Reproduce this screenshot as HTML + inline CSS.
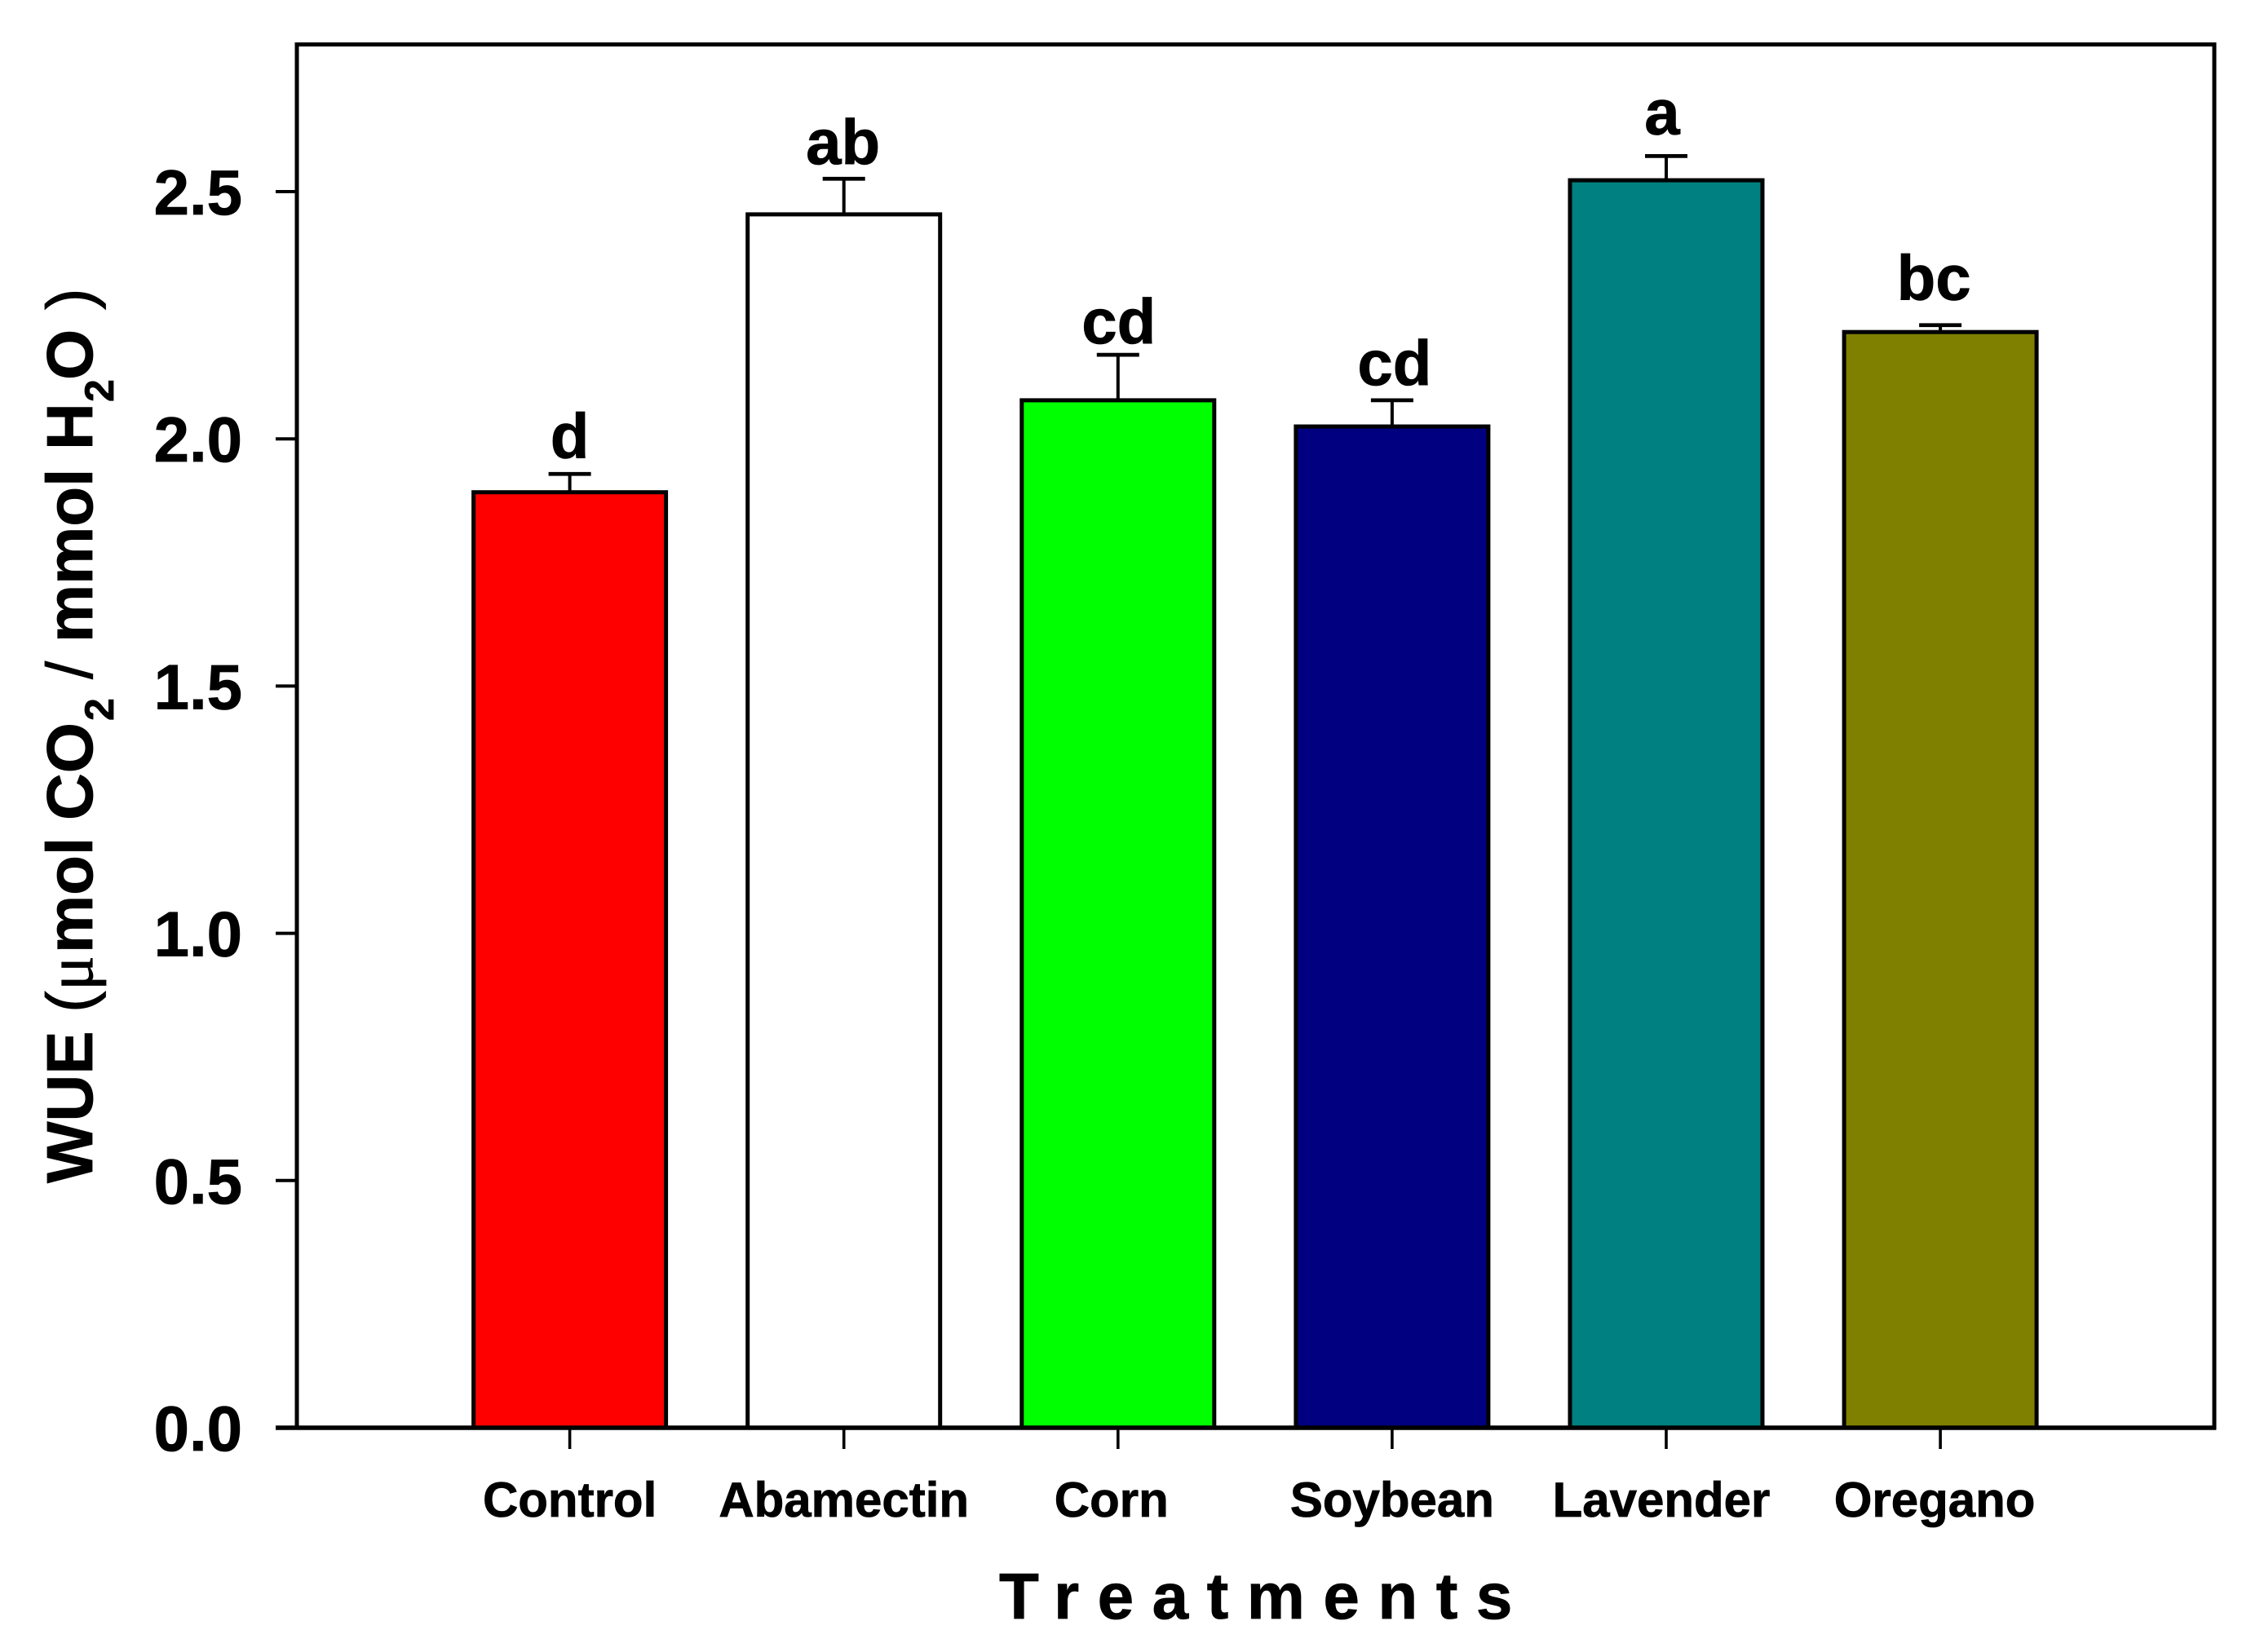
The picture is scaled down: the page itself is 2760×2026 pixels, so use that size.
<!DOCTYPE html>
<html lang="en">
<head>
<meta charset="utf-8">
<title>WUE by treatment</title>
<style>
html,body{margin:0;padding:0;background:#fff}
svg{display:block}
text{font-family:"Liberation Sans",Arial,sans-serif;font-weight:bold;fill:#000;stroke:#000;stroke-width:0.8px}
</style>
</head>
<body>
<svg id="chart" xmlns="http://www.w3.org/2000/svg" width="2760" height="2026" viewBox="0 0 2760 2026">
<rect x="0" y="0" width="2760" height="2026" fill="#fff"/>
<rect x="364" y="54.5" width="2351" height="1696.5" fill="none" stroke="#000" stroke-width="5"/>
<g id="bars"></g>
<line x1="338" y1="1751" x2="2717" y2="1751" stroke="#000" stroke-width="5.4"/>
<g id="y-ticks"></g>
<g id="x-ticks"></g>
<text x="1225" y="1985" font-size="80" letter-spacing="22.5">Treatments</text>
<text transform="translate(113,1451) rotate(-90)" font-size="80"><tspan x="0" y="0">WUE</tspan><tspan x="209" y="0" style="font-weight:normal">(</tspan><tspan x="236" y="0" style="font-family:'Liberation Serif',serif;font-weight:normal">μ</tspan><tspan x="282" y="0">mol</tspan><tspan x="445" y="0">CO</tspan><tspan x="567" y="26" font-size="50">2</tspan><tspan x="618" y="0" style="font-weight:normal">/</tspan><tspan x="663" y="0">mmol</tspan><tspan x="899" y="0">H</tspan><tspan x="958" y="26" font-size="50">2</tspan><tspan x="985" y="0">O</tspan><tspan x="1071" y="0" style="font-weight:normal">)</tspan></text>
</svg>
<script>
const categories = ['Control', 'Abamectin', 'Corn', 'Soybean', 'Lavender', 'Oregano'];
const wueValues = [1.892, 2.454, 2.078, 2.025, 2.523, 2.216];
const errorValues = [0.037, 0.072, 0.092, 0.053, 0.049, 0.014];
const significance = ['d', 'ab', 'cd', 'cd', 'a', 'bc'];
const barColors = ['#ff0000', '#ffffff', '#00ff00', '#000080', '#008080', '#808000'];
const yTickValues = [0, 0.5, 1, 1.5, 2, 2.5];

const NS = 'http://www.w3.org/2000/svg';
const y0 = 1751, pxPerUnit = 606.4;
const firstCenter = 698.6, step = 336.1, barWidth = 236, capWidth = 52;
const labelNudge = [0, -1, 1, 3, -5, -8];
const labelGap = [20, 18, 14, 19, 27, 31];
const catNudge = [0, 0, -8, 0, -6, -7];

function yScale(v) { return y0 - v * pxPerUnit; }
function xScale(i) { return firstCenter + i * step; }
function make(tag, attrs) {
  const el = document.createElementNS(NS, tag);
  for (const k in attrs) el.setAttribute(k, attrs[k]);
  return el;
}

const barsG = document.getElementById('bars');
const yG = document.getElementById('y-ticks');
const xG = document.getElementById('x-ticks');

categories.forEach(function (cat, i) {
  const cx = xScale(i);
  const top = yScale(wueValues[i]);
  const errTop = yScale(wueValues[i] + errorValues[i]);

  const stem = make('line', {x1: cx, x2: cx, y1: errTop, y2: top, stroke: '#000', 'stroke-width': 4});
  
  
  barsG.appendChild(stem);

  const cap = make('line', {x1: cx - capWidth / 2, x2: cx + capWidth / 2, y1: errTop, y2: errTop, stroke: '#000', 'stroke-width': 4.8});
  
  
  barsG.appendChild(cap);

  const bar = make('rect', {x: cx - barWidth / 2, y: top, width: barWidth, height: y0 - top, fill: barColors[i], stroke: '#000', 'stroke-width': 5});
  
  
  barsG.appendChild(bar);

  const sig = make('text', {x: cx + labelNudge[i], y: errTop - labelGap[i], 'text-anchor': 'middle', 'font-size': 78});
  sig.textContent = significance[i];
  
  
  barsG.appendChild(sig);

  const tick = make('line', {x1: cx, x2: cx, y1: y0, y2: 1777, stroke: '#000', 'stroke-width': 3.6});
  
  
  xG.appendChild(tick);

  const lab = make('text', {x: cx + catNudge[i], y: 1860, 'text-anchor': 'middle', 'font-size': 60});
  lab.textContent = cat;
  
  
  xG.appendChild(lab);
});

yTickValues.forEach(function (v) {
  const y = yScale(v);
  const tick = make('line', {x1: 338, x2: 364, y1: y, y2: y, stroke: '#000', 'stroke-width': 4});
  
  
  yG.appendChild(tick);

  const lab = make('text', {x: 297, y: y + 28, 'text-anchor': 'end', 'font-size': 78});
  lab.textContent = v.toFixed(1);
  
  
  yG.appendChild(lab);
});
</script>
</body>
</html>
